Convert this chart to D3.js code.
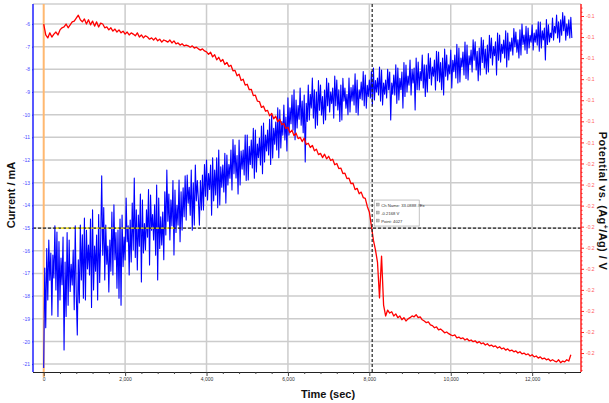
<!DOCTYPE html>
<html><head><meta charset="utf-8">
<script src="https://cdn.jsdelivr.net/npm/d3@7"></script>
<style>body{margin:0;background:#fff}svg{display:block}</style>
</head><body>
<svg id="chart" width="609" height="403"></svg>
<script>
// ---------- data ----------
const currentInterval = 25;   // seconds between current samples
const potentialInterval = 50; // seconds between potential samples
const currentValues = [
-21.17,-16.76,-19.40,-15.90,-18.17,-15.53,-17.30,-16.10,-18.84,-16.19,-17.20,-14.90,-17.73,-15.18,-18.90,-15.60,-18.17,-16.32,-17.50,-15.40,
-20.38,-16.50,-18.90,-15.20,-18.40,-15.53,-17.80,-16.60,-17.51,-15.97,-18.60,-14.90,-17.95,-19.72,-16.40,-18.30,-14.87,-17.29,-15.30,-18.10,
-14.56,-18.17,-15.10,-16.80,-15.75,-17.07,-14.60,-18.50,-14.20,-17.73,-15.80,-16.90,-15.31,-18.17,-14.40,-17.40,-15.53,-12.70,-16.20,-14.10,
-17.29,-14.87,-16.60,-15.80,-17.82,-15.53,-16.90,-14.30,-17.07,-13.98,-16.40,-15.20,-17.65,-15.09,-18.10,-14.60,-18.40,-14.43,-16.70,-15.40,
-16.41,-13.68,-15.60,-14.90,-17.07,-14.65,-16.50,-13.90,-15.97,-12.79,-16.30,-14.20,-16.85,-14.43,-15.80,-13.50,-17.38,-13.76,-16.10,-14.80,
-15.97,-14.20,-15.40,-13.30,-16.63,-13.54,-15.10,-14.40,-15.53,-13.98,-16.20,-13.10,-17.29,-13.68,-15.90,-14.50,-15.75,-14.29,-16.40,-13.40,
-15.31,-12.44,-14.70,-13.50,-15.53,-13.76,-14.90,-12.90,-16.19,-13.32,-15.20,-14.00,-14.87,-12.88,-15.60,-13.40,-15.09,-13.23,-14.50,-12.70,
-14.65,-12.66,-13.90,-13.20,-14.43,-12.44,-15.10,-13.00,-14.87,-12.22,-13.80,-12.90,-13.76,-14.87,-12.90,-14.20,-12.66,-14.20,-12.20,-13.60,
-12.00,-13.76,-12.60,-13.30,-12.22,-14.43,-11.90,-13.80,-12.44,-13.54,-11.90,-14.10,-11.56,-13.98,-12.30,-13.20,-12.22,-13.41,-11.70,-13.90,
-11.78,-13.10,-12.20,-12.80,-11.56,-13.32,-11.10,-12.60,-11.34,-12.79,-11.80,-13.50,-11.12,-13.10,-11.60,-12.40,-11.56,-12.66,-10.90,-12.90,
-10.90,-12.88,-11.40,-12.20,-11.12,-12.35,-10.60,-12.80,-10.68,-12.53,-11.30,-11.90,-11.03,-12.22,-10.50,-12.60,-10.37,-12.09,-10.90,-11.60,
-10.68,-11.78,-10.20,-12.20,-10.01,-11.91,-10.60,-11.30,-10.32,-11.56,-9.70,-11.90,-9.79,-11.47,-10.30,-10.90,-9.57,-11.12,-10.10,-11.60,
-9.26,-10.90,-9.70,-10.40,-9.13,-10.68,-8.90,-11.10,-9.35,-10.59,-9.60,-10.20,-8.82,-10.46,-9.40,-10.80,-9.13,-12.09,-9.50,-10.30,
-8.69,-10.23,-9.10,-9.70,-8.38,-10.15,-8.90,-10.60,-9.00,-10.46,-8.50,-9.80,-8.69,-10.01,-9.20,-10.40,-8.91,-10.23,-8.40,-9.60,
-8.60,-9.88,-9.00,-9.50,-8.82,-10.15,-8.30,-9.60,-8.47,-9.79,-8.90,-10.30,-8.69,-10.23,-8.40,-9.40,-8.82,-9.71,-9.10,-10.00,
-8.38,-9.88,-8.80,-9.40,-8.69,-9.57,-8.20,-9.90,-8.47,-10.01,-8.90,-9.30,-8.56,-9.35,-8.10,-9.60,-8.25,-9.71,-8.70,-9.20,
-8.47,-9.26,-8.10,-9.60,-7.94,-9.35,-8.50,-9.00,-8.38,-9.13,-7.90,-9.40,-8.03,-9.57,-8.60,-9.10,-8.47,-9.26,-8.00,-8.90,
-8.12,-10.23,-8.60,-9.10,-8.25,-9.13,-7.80,-9.50,-7.94,-9.35,-8.40,-8.90,-8.12,-9.71,-7.70,-9.20,-7.81,-9.00,-8.30,-8.70,
-7.59,-9.13,-8.00,-8.60,-7.94,-9.79,-7.50,-8.90,-7.68,-8.91,-8.10,-8.50,-7.37,-8.82,-7.80,-9.20,-7.81,-9.00,-7.30,-8.40,
-7.50,-8.69,-7.90,-8.30,-7.59,-8.91,-7.20,-8.50,-7.24,-8.56,-7.70,-8.90,-7.50,-9.13,-7.10,-8.30,-7.37,-8.47,-7.80,-8.20,
-7.15,-8.82,-7.60,-8.10,-7.37,-8.38,-6.90,-8.60,-7.06,-8.56,-7.50,-7.90,-7.24,-8.25,-6.80,-8.40,-6.93,-8.47,-7.40,-7.80,
-7.15,-8.12,-6.70,-7.60,-6.79,-8.03,-7.20,-8.50,-7.06,-8.25,-6.60,-7.70,-6.71,-7.94,-7.10,-8.20,-6.93,-8.12,-6.50,-7.50,
-6.62,-7.81,-7.00,-7.40,-6.79,-8.25,-6.40,-7.60,-6.49,-7.68,-6.90,-7.30,-6.71,-7.50,-6.30,-7.90,-6.40,-7.59,-6.80,-7.20,
-6.62,-7.37,-6.20,-7.00,-6.35,-7.24,-6.70,-7.50,-6.26,-7.37,-6.00,-6.90,-6.49,-7.15,-6.10,-7.30,-6.18,-7.06,-6.50,-6.80,
-6.04,-7.15,-6.40,-6.80,-6.26,-6.93,-5.90,-7.20,-5.91,-7.06,-6.30,-6.70,-6.18,-7.59,-5.80,-6.90,-6.04,-6.79,-6.40,-6.60,
-5.74,-6.71,-6.10,-6.40,-5.60,-6.62,-5.90,-6.80,-5.82,-6.49,-5.50,-6.30,-5.65,-6.71,-6.00,-6.50,-5.82,-6.62,-5.70,-6.62
];
const potentialValues = [
-0.1219,-0.1245,-0.1252,-0.1240,-0.1250,-0.1243,-0.1238,-0.1245,-0.1233,-0.1228,
-0.1226,-0.1219,-0.1228,-0.1221,-0.1214,-0.1212,-0.1205,-0.1198,-0.1209,-0.1214,
-0.1207,-0.1219,-0.1209,-0.1221,-0.1212,-0.1224,-0.1214,-0.1226,-0.1217,-0.1219,
-0.1228,-0.1226,-0.1233,-0.1228,-0.1236,-0.1231,-0.1238,-0.1233,-0.1240,-0.1236,
-0.1243,-0.1238,-0.1245,-0.1240,-0.1243,-0.1247,-0.1240,-0.1250,-0.1245,-0.1252,
-0.1247,-0.1250,-0.1255,-0.1252,-0.1257,-0.1252,-0.1259,-0.1255,-0.1262,-0.1257,
-0.1259,-0.1262,-0.1257,-0.1264,-0.1259,-0.1266,-0.1264,-0.1269,-0.1266,-0.1271,
-0.1269,-0.1271,-0.1274,-0.1271,-0.1276,-0.1274,-0.1278,-0.1281,-0.1278,-0.1283,
-0.1285,-0.1291,-0.1286,-0.1297,-0.1292,-0.1304,-0.1298,-0.1308,-0.1303,-0.1315,
-0.1310,-0.1320,-0.1317,-0.1330,-0.1329,-0.1342,-0.1338,-0.1353,-0.1350,-0.1364,
-0.1362,-0.1375,-0.1374,-0.1389,-0.1388,-0.1402,-0.1403,-0.1417,-0.1414,-0.1426,
-0.1424,-0.1437,-0.1431,-0.1444,-0.1438,-0.1451,-0.1445,-0.1458,-0.1455,-0.1467,
-0.1464,-0.1477,-0.1471,-0.1484,-0.1478,-0.1491,-0.1488,-0.1498,-0.1490,-0.1505,
-0.1502,-0.1512,-0.1507,-0.1520,-0.1516,-0.1529,-0.1526,-0.1536,-0.1528,-0.1539,
-0.1533,-0.1543,-0.1540,-0.1553,-0.1550,-0.1562,-0.1561,-0.1574,-0.1573,-0.1586,
-0.1585,-0.1598,-0.1597,-0.1612,-0.1609,-0.1622,-0.1618,-0.1631,-0.1633,-0.1652,
-0.1665,-0.1698,-0.1732,-0.1755,-0.1784,-0.1869,-0.1770,-0.1886,-0.1912,-0.1898,
-0.1905,-0.1902,-0.1912,-0.1907,-0.1916,-0.1912,-0.1921,-0.1916,-0.1924,-0.1919,
-0.1916,-0.1912,-0.1914,-0.1909,-0.1916,-0.1914,-0.1921,-0.1924,-0.1928,-0.1926,
-0.1933,-0.1935,-0.1940,-0.1938,-0.1945,-0.1943,-0.1947,-0.1952,-0.1950,-0.1954,
-0.1957,-0.1959,-0.1957,-0.1964,-0.1962,-0.1966,-0.1964,-0.1969,-0.1966,-0.1971,
-0.1969,-0.1973,-0.1971,-0.1976,-0.1973,-0.1978,-0.1976,-0.1981,-0.1978,-0.1983,
-0.1981,-0.1985,-0.1983,-0.1988,-0.1985,-0.1990,-0.1988,-0.1993,-0.1990,-0.1995,
-0.1993,-0.1997,-0.1995,-0.2000,-0.1997,-0.2002,-0.2000,-0.2004,-0.2002,-0.2007,
-0.2004,-0.2009,-0.2007,-0.2012,-0.2009,-0.2014,-0.2012,-0.2016,-0.2014,-0.2019,
-0.2016,-0.2019,-0.2021,-0.2016,-0.2023,-0.2019,-0.2021,-0.2016,-0.2019,-0.2004
];
const timeTicks = [0, 2000, 4000, 6000, 8000, 10000, 12000];
const timeMinorTicks = [400,800,1200,1600,2400,2800,3200,3600,4400,4800,5200,5600,6400,6800,7200,7600,8400,8800,9200,9600,10400,10800,11200,11600,12400,12800];
const currentTicks = [-6,-7,-8,-9,-10,-11,-12,-13,-14,-15,-16,-17,-18,-19,-20,-21];
const potentialTicks = [-0.12,-0.125,-0.13,-0.135,-0.14,-0.145,-0.15,-0.155,-0.16,-0.165,-0.17,-0.175,-0.18,-0.185,-0.19,-0.195,-0.2];
const cursorTime = 8070;
const cursorCurrent = -15;
const tooltipLines = ["Ch Name: 33.0888 #Ex", "-0.2168 V", "Point: 4027"];
const xTitle = "Time (sec)";
const yLeftTitle = "Current / mA";

// ---------- chart ----------
const svg = d3.select("#chart");
const L = 33, R = 581, T = 4, B = 372;
const font = "'Liberation Sans', Arial, sans-serif";

const x = d3.scaleLinear().domain([-263, 13200]).range([L, R]);
const yL = d3.scaleLinear().domain([-21.35, -5.118]).range([B, T]);
const yR = d3.scaleLinear().domain([-0.2045, -0.11715]).range([B, T]);

// grid
const grid = svg.append("g");
grid.append("line").attr("x1", L).attr("x2", R).attr("y1", T).attr("y2", T)
  .attr("stroke", "#cfcfcf").attr("stroke-width", 1.5);
grid.selectAll("line.h").data(currentTicks).join("line").attr("class", "h")
  .attr("x1", L).attr("x2", R).attr("y1", d => yL(d)).attr("y2", d => yL(d))
  .attr("stroke", "#cccccc").attr("stroke-width", 1.5);
grid.selectAll("line.v").data(timeTicks.filter(d => d > 0)).join("line").attr("class", "v")
  .attr("x1", d => x(d)).attr("x2", d => x(d)).attr("y1", T).attr("y2", B)
  .attr("stroke", "#cccccc").attr("stroke-width", 1.5);

// orange start marker at t = 0
svg.append("line").attr("x1", x(0)).attr("x2", x(0)).attr("y1", T).attr("y2", B + 5)
  .attr("stroke", "#ffb870").attr("stroke-width", 2);

// series
const blueLine = d3.line().x((d, i) => x(i * currentInterval)).y(d => yL(d));
const redLine = d3.line().x((d, i) => x(i * potentialInterval)).y(d => yR(d));
svg.append("path").datum(currentValues).attr("d", blueLine)
  .attr("fill", "none").attr("stroke", "#0000ff").attr("stroke-width", 1.1)
  .attr("stroke-linejoin", "round");
svg.append("path").datum(potentialValues).attr("d", redLine)
  .attr("fill", "none").attr("stroke", "#ff0000").attr("stroke-width", 1.3)
  .attr("stroke-linejoin", "round");

// cursor cross-hair
const cx = x(cursorTime), cy = yL(cursorCurrent);
svg.append("line").attr("x1", L).attr("x2", R).attr("y1", cy).attr("y2", cy)
  .attr("stroke", "#222").attr("stroke-width", 1.2).attr("stroke-dasharray", "3,2");
svg.append("line").attr("x1", x(300)).attr("x2", x(3200)).attr("y1", cy).attr("y2", cy)
  .attr("stroke", "#f5e400").attr("stroke-width", 1.2).attr("stroke-dasharray", "3,2");
svg.append("line").attr("x1", cx).attr("x2", cx).attr("y1", T).attr("y2", B)
  .attr("stroke", "#222").attr("stroke-width", 1.2).attr("stroke-dasharray", "3,2");

// axes
const gx = svg.append("g").attr("transform", `translate(0,${B})`)
  .call(d3.axisBottom(x).tickValues(timeTicks).tickFormat(d3.format(",")).tickSize(4).tickSizeOuter(0));
const gxm = svg.append("g").attr("transform", `translate(0,${B})`)
  .call(d3.axisBottom(x).tickValues(timeMinorTicks).tickFormat("").tickSize(2).tickSizeOuter(0));
gxm.select(".domain").remove();
gx.select(".domain").attr("stroke", "#222").attr("stroke-width", 1.2).attr("d", `M${L},0.5H${R}`);
gx.selectAll(".tick line").attr("stroke", "#444");
gxm.selectAll(".tick line").attr("stroke", "#444");
gx.selectAll("text").attr("font-size", 5).attr("font-family", font).attr("fill", "#333").attr("dy", "0.4em");

const gl = svg.append("g").attr("transform", `translate(${L},0)`)
  .call(d3.axisLeft(yL).tickValues(currentTicks).tickFormat(d => String(d)).tickSize(1).tickPadding(2).tickSizeOuter(0));
gl.select(".domain").attr("stroke", "#2020ff").attr("stroke-width", 1.5).attr("d", `M0,${T}V${B}`);
gl.selectAll(".tick line").attr("stroke", "#2020ff");
gl.selectAll("text").attr("font-size", 5).attr("font-family", font).attr("fill", "#4848ff");

const potentialMinor = d3.range(-0.204, -0.1172, 0.001).filter(v => potentialTicks.every(t => Math.abs(t - v) > 1e-6));
const gr = svg.append("g").attr("transform", `translate(${R},0)`)
  .call(d3.axisRight(yR).tickValues(potentialTicks).tickFormat(d => d.toFixed(1)).tickSize(3).tickPadding(2).tickSizeOuter(0));
const grm = svg.append("g").attr("transform", `translate(${R},0)`)
  .call(d3.axisRight(yR).tickValues(potentialMinor).tickFormat("").tickSize(1.5).tickSizeOuter(0));
grm.select(".domain").remove();
grm.selectAll(".tick line").attr("stroke", "#ff2020");
gr.select(".domain").attr("stroke", "#ff2020").attr("stroke-width", 1.5).attr("d", `M0,${T}V${B}`);
gr.selectAll(".tick line").attr("stroke", "#ff2020");
gr.selectAll("text").attr("font-size", 5).attr("font-family", font).attr("fill", "#ff5a5a");

// axis titles
svg.append("text").attr("x", 328).attr("y", 397.5).attr("text-anchor", "middle")
  .attr("font-family", font).attr("font-weight", "bold").attr("font-size", 11).attr("fill", "#111")
  .text(xTitle);
svg.append("text").attr("transform", "translate(15,195) rotate(-90)").attr("text-anchor", "middle")
  .attr("font-family", font).attr("font-weight", "bold").attr("font-size", 11).attr("fill", "#111")
  .text(yLeftTitle);
const rt = svg.append("text").attr("transform", "translate(599,201) rotate(90)").attr("text-anchor", "middle")
  .attr("font-family", font).attr("font-weight", "bold").attr("font-size", 11).attr("fill", "#111")
  .attr("letter-spacing", 0.4);
rt.append("tspan").text("Potential vs. (Ag");
rt.append("tspan").attr("font-size", 7).attr("dy", -4).text("+");
rt.append("tspan").attr("dy", 4).text("/Ag) / V");

// cursor tooltip
const tip = svg.append("g").attr("transform", `translate(${cx + 2},${cy - 28})`);
tip.append("rect").attr("width", 45).attr("height", 26).attr("fill", "#fff")
  .attr("stroke", "#9a9a9a").attr("stroke-width", 0.6);
tooltipLines.forEach((t, i) => {
  tip.append("rect").attr("x", 2).attr("y", 3 + i * 8).attr("width", 3).attr("height", 3)
    .attr("fill", "#bbb").attr("stroke", "#777").attr("stroke-width", 0.3);
  tip.append("text").attr("x", 7).attr("y", 6.5 + i * 8).attr("font-size", 4.2)
    .attr("font-family", font).attr("fill", "#333").text(t);
});
</script>
</body></html>
